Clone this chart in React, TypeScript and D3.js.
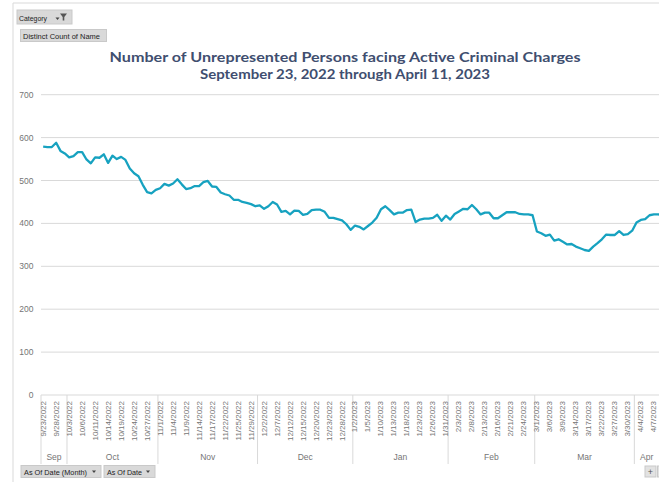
import React from "react";
import * as d3 from "d3";

const dates: string[] = [
  "9/23/2022","9/26/2022","9/27/2022","9/28/2022","9/29/2022","9/30/2022",
  "10/3/2022","10/4/2022","10/5/2022","10/6/2022","10/7/2022","10/10/2022","10/11/2022","10/12/2022","10/13/2022","10/14/2022",
  "10/17/2022","10/18/2022","10/19/2022","10/20/2022","10/21/2022","10/24/2022","10/25/2022","10/26/2022","10/27/2022","10/28/2022","10/31/2022",
  "11/1/2022","11/2/2022","11/3/2022","11/4/2022","11/7/2022","11/8/2022","11/9/2022","11/10/2022","11/11/2022","11/14/2022",
  "11/15/2022","11/16/2022","11/17/2022","11/18/2022","11/21/2022","11/22/2022","11/23/2022","11/24/2022","11/25/2022","11/26/2022",
  "11/28/2022","11/29/2022","11/30/2022",
  "12/1/2022","12/2/2022","12/5/2022","12/6/2022","12/7/2022","12/8/2022","12/9/2022","12/12/2022","12/13/2022","12/14/2022",
  "12/15/2022","12/16/2022","12/19/2022","12/20/2022","12/21/2022","12/22/2022","12/23/2022","12/26/2022","12/27/2022","12/28/2022",
  "12/29/2022","12/30/2022",
  "1/2/2023","1/3/2023","1/4/2023","1/5/2023","1/6/2023","1/9/2023","1/10/2023","1/11/2023","1/12/2023","1/13/2023",
  "1/16/2023","1/17/2023","1/18/2023","1/19/2023","1/20/2023","1/23/2023","1/24/2023","1/25/2023","1/26/2023","1/27/2023",
  "1/30/2023","1/31/2023",
  "2/1/2023","2/2/2023","2/3/2023","2/6/2023","2/7/2023","2/8/2023","2/9/2023","2/10/2023","2/13/2023","2/14/2023",
  "2/15/2023","2/16/2023","2/17/2023","2/20/2023","2/21/2023","2/22/2023","2/23/2023","2/24/2023","2/27/2023","2/28/2023",
  "3/1/2023","3/2/2023","3/3/2023","3/6/2023","3/7/2023","3/8/2023","3/9/2023","3/10/2023","3/13/2023","3/14/2023",
  "3/15/2023","3/16/2023","3/17/2023","3/20/2023","3/21/2023","3/22/2023","3/23/2023","3/24/2023","3/27/2023","3/28/2023",
  "3/29/2023","3/30/2023","3/31/2023",
  "4/3/2023","4/4/2023","4/5/2023","4/6/2023","4/7/2023","4/10/2023","4/11/2023",
];

const counts: number[] = [
  579,578,578,588,569,563,554,557,566,566,
  549,540,554,553,561,541,558,550,555,548,
  528,517,510,490,473,470,478,482,492,488,
  493,503,491,480,482,487,487,496,499,486,
  485,472,468,465,455,455,450,448,445,440,
  442,434,440,450,444,427,429,421,430,429,
  420,422,431,432,432,427,413,413,410,407,
  398,385,395,392,386,394,402,413,433,440,
  431,421,425,425,431,432,403,409,411,411,
  413,420,406,418,409,422,428,434,433,443,
  433,421,425,425,412,412,419,426,426,426,
  422,421,421,419,381,377,371,374,360,363,
  357,351,352,346,342,338,336,346,354,363,
  374,373,373,382,373,375,383,402,408,410,
  419,421,421,420,
];

const months: string[] = ["Sep", "Oct", "Nov", "Dec", "Jan", "Feb", "Mar", "Apr"];
const yTicks: number[] = [0, 100, 200, 300, 400, 500, 600, 700];
const titleLines: string[] = [
  "Number of Unrepresented Persons facing Active Criminal Charges",
  "September 23, 2022 through April 11, 2023",
];

const W = 659;
const H = 482;
const FONT = "'Liberation Sans', Arial, sans-serif";

export default function App() {
  const x = d3
    .scaleBand<number>()
    .domain(d3.range(dates.length))
    .range([41, 41 + dates.length * 4.331])
    .padding(0);
  const bw = x.bandwidth();
  const cx = (i: number) => (x(i) as number) + bw / 2;
  const y = d3.scaleLinear().domain([0, 700]).range([395, 94.7]);

  const line = d3
    .line<number>()
    .x((_, i) => cx(i))
    .y((v) => y(v))(counts) as string;

  const monthOf = (s: string) => +s.split("/")[0];
  const groups: { start: number; end: number }[] = [];
  dates.forEach((d, i) => {
    if (i === 0 || monthOf(d) !== monthOf(dates[i - 1])) groups.push({ start: i, end: i });
    else groups[groups.length - 1].end = i;
  });

  const axisColor = "#d9d9d9";
  const labelColor = "#757575";

  const tri = (tx: number, ty: number) => `M${tx - 2},${ty - 1} L${tx + 2},${ty - 1} L${tx},${ty + 1.5} Z`;

  return (
    <svg
      width={W}
      height={H}
      style={{ position: "absolute", left: 0, top: 0, background: "#fff" }}
      fontFamily={FONT}
    >
      {/* chart border */}
      <line x1={13} y1={3} x2={W} y2={3} stroke={axisColor} />
      <line x1={13} y1={3} x2={13} y2={H} stroke={axisColor} />

      {/* top buttons */}
      <rect x={17} y={10} width={55} height={14} fill="#d9d9d9" stroke="#c9c9c9" />
      <text x={19} y={20.5} fontSize={8} fill="#222" textLength={28} lengthAdjust="spacingAndGlyphs">
        Category
      </text>
      <path d={tri(57.5, 18.5)} fill="#444" />
      <path d="M60,13.5 L67,13.5 L64.3,17 L64.3,20.5 L62.7,20.5 L62.7,17 Z" fill="#555" />

      <rect x={20.5} y={29.5} width={86} height={12} fill="#d9d9d9" stroke="#c9c9c9" />
      <text x={23} y={38.5} fontSize={8} fill="#222" textLength={77} lengthAdjust="spacingAndGlyphs">
        Distinct Count of Name
      </text>

      {/* title */}
      {titleLines.map((t, k) => (
        <text
          key={k}
          x={345}
          y={62 + k * 17}
          textAnchor="middle"
          fontFamily="Lato, 'Open Sans', sans-serif"
          fontWeight={700}
          fontSize={13.5}
          fill="#404e6f"
          textLength={k === 0 ? 471 : 290}
          lengthAdjust="spacingAndGlyphs"
        >
          {t}
        </text>
      ))}

      {/* gridlines & y labels */}
      {yTicks.map((t) => (
        <g key={t}>
          <line x1={41} x2={W} y1={y(t)} y2={y(t)} stroke={axisColor} strokeWidth={1} />
          <text
            x={33.5}
            y={y(t)}
            textAnchor="end"
            dominantBaseline="central"
            fontSize={8.5}
            fill={labelColor}
          >
            {t}
          </text>
        </g>
      ))}

      {/* month separators and labels */}
      {groups.map((g, k) => {
        const x0 = x(g.start) as number;
        const x1 = (x(g.end) as number) + bw;
        return (
          <g key={k}>
            <line x1={x0} x2={x0} y1={395} y2={464} stroke={axisColor} />
            <text
              x={(x0 + Math.min(x1, W)) / 2}
              y={460}
              textAnchor="middle"
              fontSize={8.5}
              fill={labelColor}
            >
              {months[k]}
            </text>
          </g>
        );
      })}

      {/* date labels every 3rd category */}
      {dates.map((d, i) =>
        i % 3 === 0 ? (
          <text
            key={d}
            transform={`translate(${cx(i)},401) rotate(-90)`}
            textAnchor="end"
            dominantBaseline="central"
            fontSize={8}
            fill={labelColor}
          >
            {d}
          </text>
        ) : null
      )}

      {/* data line */}
      <path d={line} fill="none" stroke="#17a2c0" strokeWidth={2.3} strokeLinejoin="round" />

      {/* bottom buttons */}
      <rect x={21} y={465.5} width={80} height={12} fill="#d9d9d9" stroke="#c9c9c9" />
      <text x={24} y={474.5} fontSize={8} fill="#222" textLength={63} lengthAdjust="spacingAndGlyphs">
        As Of Date (Month)
      </text>
      <path d={tri(94, 471.5)} fill="#444" />
      <rect x={104} y={465.5} width={51} height={12} fill="#d9d9d9" stroke="#c9c9c9" />
      <text x={107} y={474.5} fontSize={8} fill="#222" textLength={35} lengthAdjust="spacingAndGlyphs">
        As Of Date
      </text>
      <path d={tri(148, 471.5)} fill="#444" />

      <rect x={645} y={466} width={11} height={11} fill="#e2e2e2" stroke="#c9c9c9" />
      <text x={650.5} y={474.5} textAnchor="middle" fontSize={9} fill="#555">
        +
      </text>
      <rect x={657.5} y={466} width={6} height={11} fill="#e2e2e2" stroke="#c9c9c9" />
    </svg>
  );
}
